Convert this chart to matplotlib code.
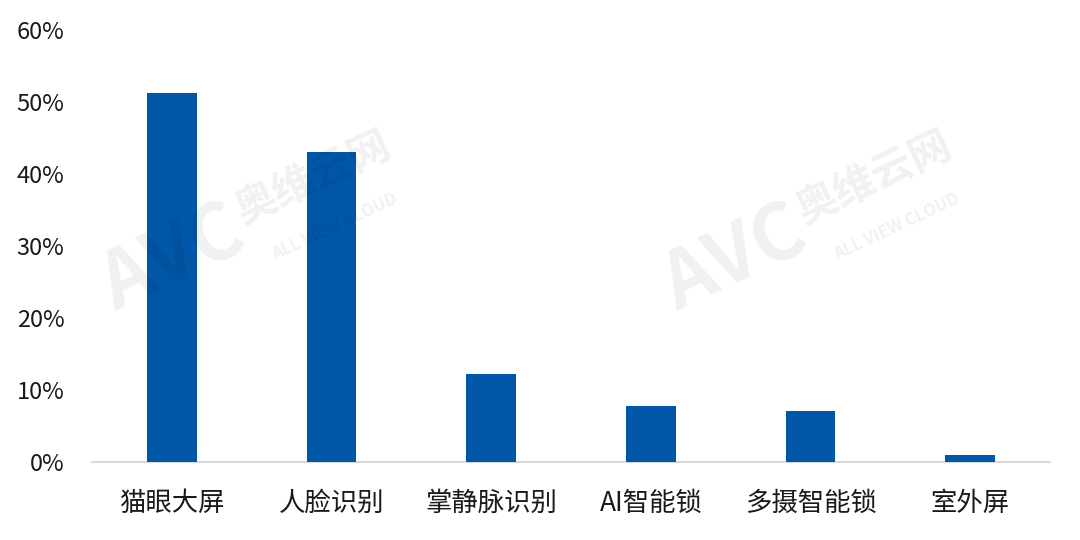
import matplotlib
matplotlib.use("Agg")
import matplotlib.pyplot as plt
from matplotlib.ticker import FuncFormatter

plt.rcParams['font.family'] = ['Noto Sans CJK SC', 'DejaVu Sans']

categories = ["猫眼大屏", "人脸识别", "掌静脉识别", "AI智能锁", "多摄智能锁", "室外屏"]
values = [51.2, 43.0, 12.2, 7.8, 7.1, 1.0]
yticks = [0, 10, 20, 30, 40, 50, 60]

fig = plt.figure(figsize=(10.8, 5.4), dpi=100)
ax = fig.add_axes([92/1080, 1 - 462/540, (1050-92)/1080, (462-30)/540])

ax.bar(range(len(categories)), values, width=0.31, color="#0057A8", zorder=3)
ax.set_xlim(-0.5, len(categories) - 0.5)
ax.set_ylim(0, 60)
ax.set_yticks(yticks)
ax.yaxis.set_major_formatter(FuncFormatter(lambda v, p: f"{v:.0f}%"))
ax.set_xticks(range(len(categories)))
ax.set_xticklabels(categories, fontsize=19, color="#1a1a1a")
ax.tick_params(axis='y', labelsize=17, length=0, pad=20, labelcolor="#1a1a1a")
ax.tick_params(axis='x', length=0, pad=20)
for s in ["top", "right", "left"]:
    ax.spines[s].set_visible(False)
ax.spines["bottom"].set_color("#D9D9D9")
ax.spines["bottom"].set_linewidth(1.5)

# faint watermarks
for (x, y) in [(0.16, 0.52), (0.68, 0.52)]:
    fig.text(x, y, "AVC", fontsize=56, fontweight="bold", color="#000000", alpha=0.06,
             rotation=25, ha="center", va="center", style="italic")
    fig.text(x + 0.13, y + 0.15, "奥维云网", fontsize=30, fontweight="bold", color="#000000",
             alpha=0.06, rotation=25, ha="center", va="center")
    fig.text(x + 0.15, y + 0.06, "ALL VIEW CLOUD", fontsize=12, fontweight="bold", color="#000000",
             alpha=0.06, rotation=25, ha="center", va="center")

fig.savefig("out.png", dpi=100)
